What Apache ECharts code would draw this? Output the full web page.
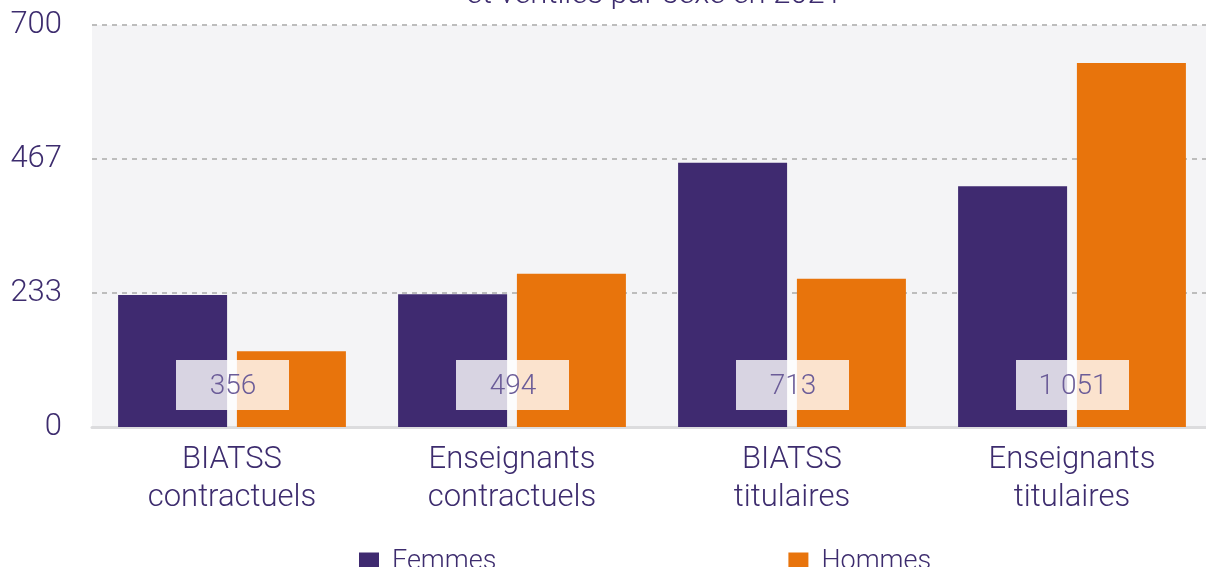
<!DOCTYPE html>
<html>
<head>
<meta charset="utf-8">
<script src="https://cdn.jsdelivr.net/npm/echarts@6/dist/echarts.min.js"></script>
<style>
  html, body { margin: 0; padding: 0; background: #fff; }
  #chart { width: 1206px; height: 567px; }
</style>
</head>
<body>
<div id="chart"></div>
<script>
var categories = ['BIATSS\ncontractuels', 'Enseignants\ncontractuels', 'BIATSS\ntitulaires', 'Enseignants\ntitulaires'];
var femmes = [230, 231, 460, 419];
var hommes = [132, 267, 258, 634];
var totals = [356, 494, 713, 1051];

var purple = '#3f2a70';
var orange = '#e8740c';
var textColor = '#3d2c6e';
var font = 'Roboto, "Liberation Sans", sans-serif';

function fmt(n) {
  return String(n).replace(/\B(?=(\d{3})+(?!\d))/g, ' ');
}

var chart = echarts.init(document.getElementById('chart'));

var option = {
  animation: false,
  textStyle: { fontFamily: font, fontWeight: 300 },
  grid: {
    left: 92, right: -6, top: 25, bottom: 140,
    outerBoundsMode: 'none',
    show: true, backgroundColor: '#f4f4f6', borderWidth: 0
  },
  graphic: [{
    type: 'text',
    style: {
      text: 'et ventilés par sexe en 2021',
      x: 654, y: 11,
      textAlign: 'center', textVerticalAlign: 'bottom',
      fill: textColor, font: '300 31px ' + font
    }
  }],
  legend: {
    left: 354, top: 544,
    itemWidth: 20, itemHeight: 20, itemGap: 292,
    icon: 'rect',
    textStyle: { color: textColor, fontSize: 27, fontWeight: 300, padding: [0, 0, 0, 8] },
    data: ['Femmes', 'Hommes']
  },
  xAxis: {
    type: 'category',
    data: categories,
    axisTick: { show: false },
    axisLine: { lineStyle: { color: '#dcdcde', width: 3 } },
    axisLabel: { color: textColor, fontSize: 31, fontWeight: 300, lineHeight: 38, margin: 14 }
  },
  yAxis: {
    type: 'value',
    min: 0, max: 700, interval: 700 / 3,
    axisLabel: {
      color: textColor, fontSize: 31, fontWeight: 300, margin: 30,
      formatter: function (v) { return Math.round(v); }
    },
    splitLine: { lineStyle: { color: '#bdbdbd', width: 2, type: [5, 5] } }
  },
  series: [
    { name: 'Femmes', type: 'bar', data: femmes, barWidth: 109, barGap: '9%', color: purple },
    { name: 'Hommes', type: 'bar', data: hommes, barWidth: 109, barGap: '9%', color: orange },
    {
      name: 'Total', type: 'custom', data: totals.map(function (t, i) { return [i, t]; }),
      z: 10,
      renderItem: function (params, api) {
        var p = api.coord([api.value(0), 0]);
        return {
          type: 'group',
          children: [
            { type: 'rect', shape: { x: p[0] - 56, y: p[1] - 67, width: 113, height: 50 },
              style: { fill: 'rgba(255,255,255,0.8)' } },
            { type: 'text',
              style: { text: fmt(api.value(1)), x: p[0] + 1, y: p[1] - 40,
                       textAlign: 'center', textVerticalAlign: 'middle',
                       fill: '#6b5c98', font: '300 28px ' + font } }
          ]
        };
      }
    }
  ]
};

chart.setOption(option);
</script>
</body>
</html>
